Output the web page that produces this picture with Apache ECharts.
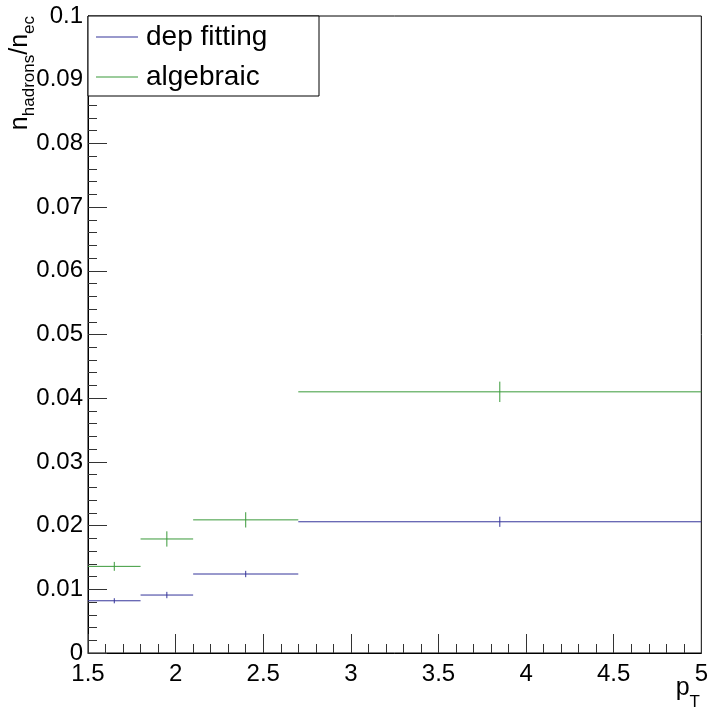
<!DOCTYPE html>
<html>
<head>
<meta charset="utf-8">
<script src="https://cdn.jsdelivr.net/npm/echarts@6.0.0/dist/echarts.min.js"></script>
<style>
  html, body { margin: 0; padding: 0; background: #fff; }
  #chart { width: 711px; height: 710px; }
</style>
</head>
<body>
<div id="chart"></div>
<script>
// pT bins shared by both methods
const binLow = [1.5, 1.8, 2.1, 2.7];
const binHigh = [1.8, 2.1, 2.7, 5.0];
const binCenter = [1.65, 1.95, 2.4, 3.85];

// n_hadrons / n_ec per bin, with statistical errors
const depFitting = [0.0082, 0.0091, 0.0124, 0.0206];
const depFittingErr = [0.0004, 0.0005, 0.0005, 0.0008];
const algebraic = [0.0136, 0.0179, 0.0209, 0.0410];
const algebraicErr = [0.0007, 0.0012, 0.0012, 0.0016];

const seriesNames = ['dep fitting', 'algebraic'];
const seriesColors = ['#35359a', '#3a9a3a'];

const FONT = '"Liberation Sans", Helvetica, Arial, sans-serif';

function rows(values, errors) {
  return values.map((v, i) => [binLow[i], binHigh[i], binCenter[i], v, errors[i]]);
}

// horizontal bin-width bar plus vertical error bar at the bin centre
function histRenderer(color) {
  return function (params, api) {
    const y = api.value(3), e = api.value(4);
    const a = api.coord([api.value(0), y]);
    const b = api.coord([api.value(1), y]);
    const t = api.coord([api.value(2), y + e]);
    const d = api.coord([api.value(2), y - e]);
    return {
      type: 'group',
      children: [
        { type: 'line', shape: { x1: a[0], y1: a[1], x2: b[0], y2: b[1] },
          style: { stroke: color, lineWidth: 1 } },
        { type: 'line', shape: { x1: t[0], y1: t[1], x2: d[0], y2: d[1] },
          style: { stroke: color, lineWidth: 1 } }
      ]
    };
  };
}

// text width helper for composing sub-scripted axis titles
const measureCtx = document.createElement('canvas').getContext('2d');
function textWidth(str, size) {
  measureCtx.font = size + 'px ' + FONT;
  return measureCtx.measureText(str).width;
}

// lay out [text, size, drop] pieces so that they end at local x = 0
function titlePieces(parts) {
  const total = parts.reduce((s, p) => s + textWidth(p[0], p[1]), 0);
  let x = -total;
  return parts.map(p => {
    const el = {
      type: 'text',
      style: {
        text: p[0], x: x, y: p[2],
        font: p[1] + 'px ' + FONT,
        fill: '#000',
        textAlign: 'left',
        textVerticalAlign: 'bottom'
      }
    };
    x += textWidth(p[0], p[1]);
    return el;
  });
}

const legendFont = 28;
const legendTextW = Math.max(...seriesNames.map(n => textWidth(n, legendFont)));
const legendRightPad = Math.max(4, 231 - 8 - (42 + 5 + 3 + legendTextW));

const chart = echarts.init(document.getElementById('chart'));
chart.setOption({
  animation: false,
  backgroundColor: '#fff',
  grid: {
    left: 88, right: 8, top: 16, bottom: 57,
    show: true, borderColor: '#000', borderWidth: 1, backgroundColor: 'transparent'
  },
  xAxis: {
    type: 'value', min: 1.5, max: 5, interval: 0.5,
    axisLine: { lineStyle: { color: '#000', width: 1 } },
    axisTick: { inside: true, length: 19, lineStyle: { color: '#333' } },
    minorTick: { show: true, splitNumber: 5, length: 9, lineStyle: { color: '#333' } },
    splitLine: { show: false },
    axisLabel: { color: '#000', fontSize: 24, fontFamily: FONT, margin: 9,
                 showMinLabel: true, showMaxLabel: true }
  },
  yAxis: {
    type: 'value', min: 0, max: 0.1, interval: 0.01,
    axisLine: { show: true, lineStyle: { color: '#000', width: 1 } },
    axisTick: { show: true, inside: true, length: 19, lineStyle: { color: '#333' } },
    minorTick: { show: true, splitNumber: 5, length: 9, lineStyle: { color: '#333' } },
    splitLine: { show: false },
    axisLabel: { color: '#000', fontSize: 24, fontFamily: FONT, margin: 5,
                 showMinLabel: true, showMaxLabel: true,
                 formatter: v => String(+v.toFixed(3)) }
  },
  legend: {
    orient: 'vertical', left: 88, top: 16,
    data: seriesNames.map(n => ({ name: n, icon: 'rect' })),
    itemWidth: 42, itemHeight: 1, itemGap: 12,
    padding: [7, legendRightPad, 5, 8],
    backgroundColor: '#fff', borderColor: '#000', borderWidth: 1,
    selectedMode: false,
    textStyle: { color: '#000', fontSize: legendFont, fontFamily: FONT, padding: [0, 0, 0, 3] }
  },
  graphic: [
    { type: 'group', x: 27, y: 16, rotation: Math.PI / 2,
      children: titlePieces([['n', 25, 6], ['hadrons', 17, 11], ['/n', 25, 6], ['ec', 17, 11]]) },
    { type: 'group', x: 700, y: 701,
      children: titlePieces([['p', 25, 0], ['T', 17, 10]]) }
  ],
  series: [
    { name: seriesNames[0], type: 'custom', renderItem: histRenderer(seriesColors[0]),
      itemStyle: { color: seriesColors[0] }, encode: { x: [0, 1, 2], y: [3, 4] },
      data: rows(depFitting, depFittingErr), z: 3 },
    { name: seriesNames[1], type: 'custom', renderItem: histRenderer(seriesColors[1]),
      itemStyle: { color: seriesColors[1] }, encode: { x: [0, 1, 2], y: [3, 4] },
      data: rows(algebraic, algebraicErr), z: 3 }
  ]
});
</script>
</body>
</html>
